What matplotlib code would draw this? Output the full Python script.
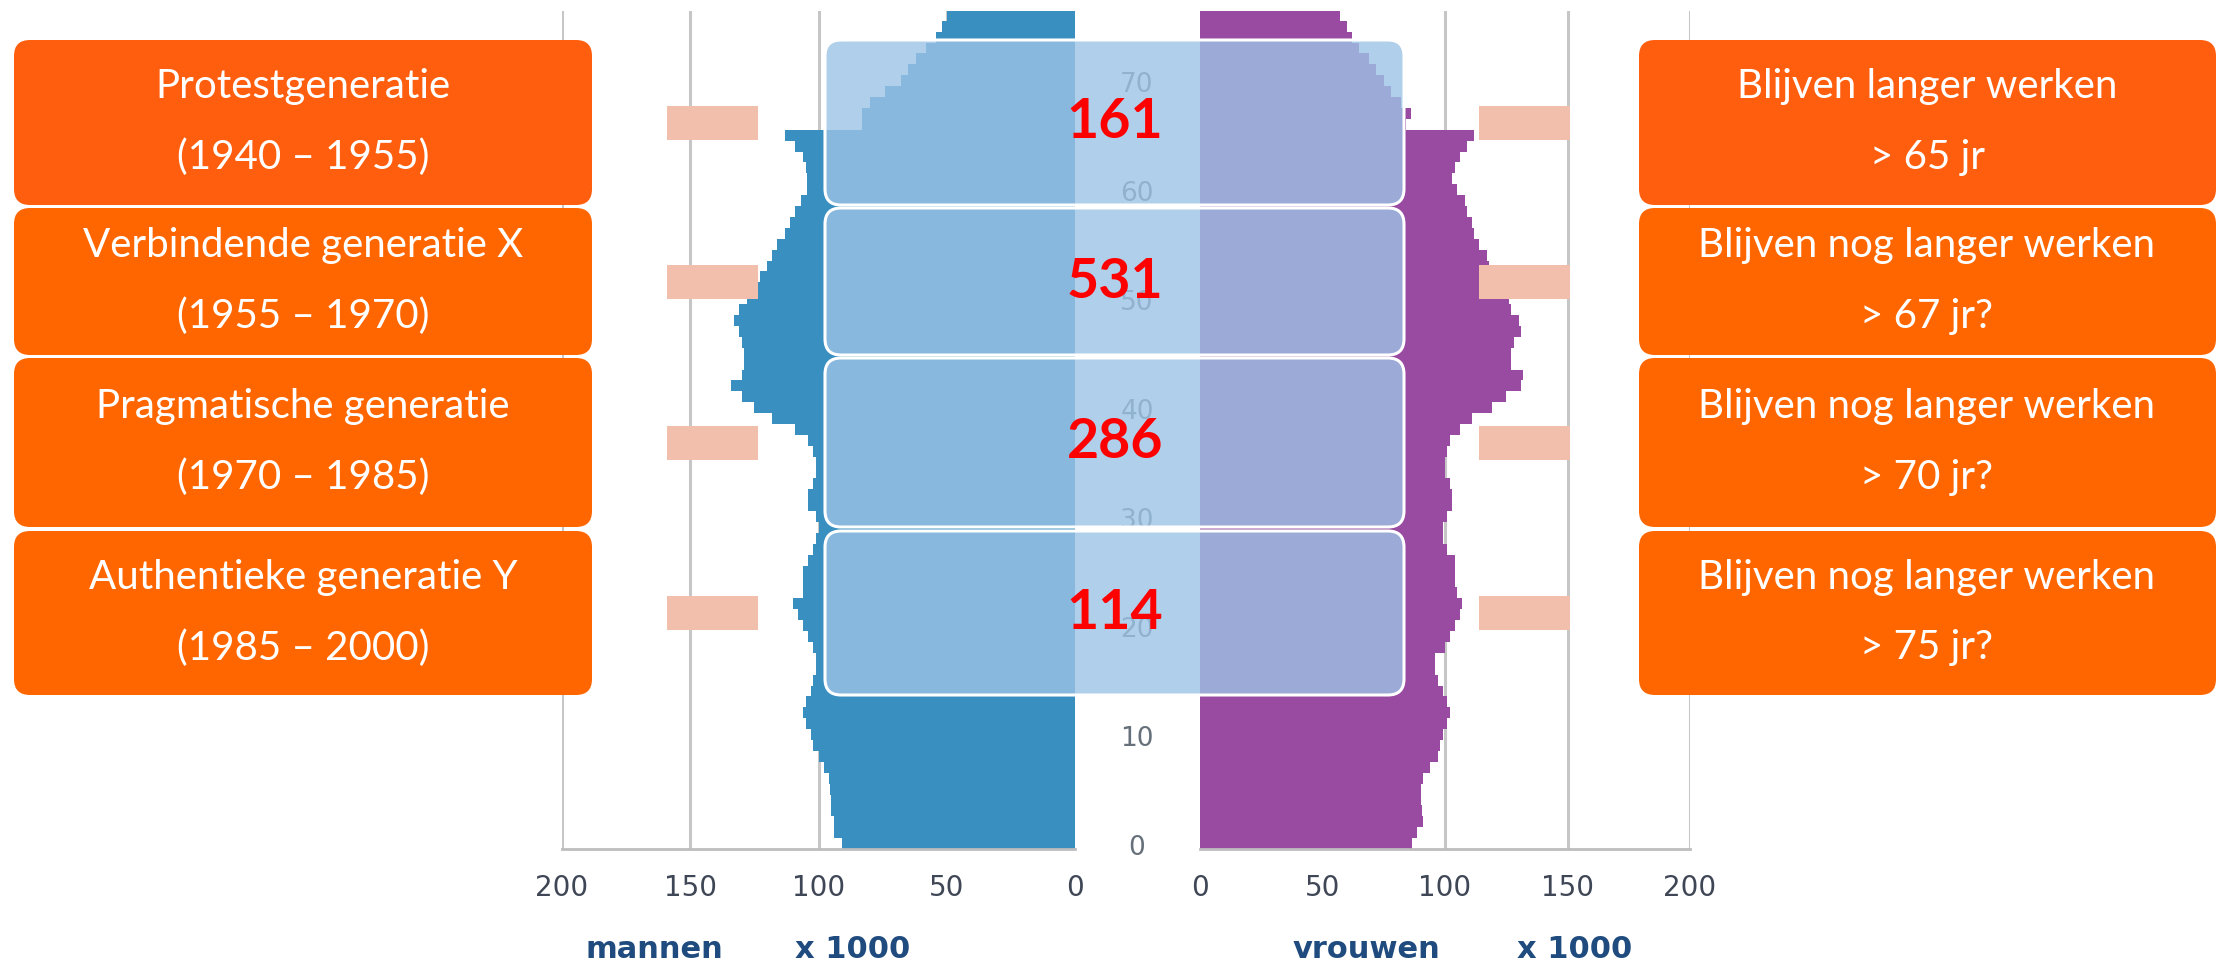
import matplotlib
matplotlib.use("Agg")
import matplotlib.pyplot as plt
from matplotlib.patches import FancyBboxPatch, Rectangle
import numpy as np

# population per age (x 1000)
ages = np.arange(77)
men = [91, 94, 94, 95, 95, 95.5, 96, 98, 100, 102,
       103, 105, 106, 105, 103, 102, 101, 101, 102, 104,
       106, 108, 110, 106, 106, 106, 104, 102, 101, 100,
       101, 104, 104, 102, 101, 101, 102, 104, 109, 118,
       125, 130, 134, 130, 129, 129, 130, 131, 133, 131,
       128, 124, 123, 120, 118, 116, 113, 111, 109, 107,
       104.5, 104.5, 105, 106, 109, 113, 83, 83, 80, 74,
       68, 65, 62, 58, 54, 52, 50]
women = [86.5, 88.5, 91, 90.5, 90, 90, 91, 94, 97, 98,
         99, 101, 102, 101, 99, 97, 96, 96, 100, 102,
         104, 106, 107, 105, 104, 104, 104, 101, 99, 99,
         101, 103, 103, 102, 100, 100, 101, 102, 106, 111,
         119, 125, 131, 132, 127, 127, 128, 131, 130, 127,
         126, 122, 120, 118, 117, 114, 112, 111, 109, 108,
         105, 103, 104, 106, 109, 112, 84, 86, 82, 78,
         75, 72, 69, 65, 62, 60, 57]

x_ticks = [0, 50, 100, 150, 200]
age_ticks = [0, 10, 20, 30, 40, 50, 60, 70]

generations = ["Protestgeneratie", "Verbindende generatie X",
               "Pragmatische generatie", "Authentieke generatie Y"]
periods = ["(1940 \u2013 1955)", "(1955 \u2013 1970)",
           "(1970 \u2013 1985)", "(1985 \u2013 2000)"]
counts = ["161", "531", "286", "114"]
work_lines = ["Blijven langer werken", "Blijven nog langer werken",
              "Blijven nog langer werken", "Blijven nog langer werken"]
work_ages = ["> 65 jr", "> 67 jr?", "> 70 jr?", "> 75 jr?"]

W, H = 2229, 973
fig = plt.figure(figsize=(W / 100, H / 100), dpi=100)


def px_axes(x0, y0, x1, y1, **kw):
    return fig.add_axes([x0 / W, 1 - y1 / H, (x1 - x0) / W, (y1 - y0) / H], **kw)


ax_m = px_axes(562, 11, 1075, 849)
ax_w = px_axes(1200, 11, 1690, 849)

for ax, vals, col in [(ax_m, men, "#3A8FC1"), (ax_w, women, "#994AA1")]:
    ax.barh(ages, vals, height=1, align="edge", color=col, linewidth=0)
    ax.set_ylim(0, 76.9)
    ax.set_xlim(0, 200)
    ax.set_xticks(x_ticks)
    ax.set_yticks([])
    ax.set_axisbelow(True)
    ax.grid(axis="x", color="#C6C6C6", lw=2.2)
    for s in ["top", "left", "right"]:
        ax.spines[s].set_visible(False)
    ax.spines["bottom"].set_color("#BDBDBD")
    ax.spines["bottom"].set_linewidth(2)
    ax.tick_params(axis="x", length=0, pad=18, labelsize=20, labelcolor="#3F4756")
ax_m.invert_xaxis()

for a in age_ticks:
    ax_m.text(-24.2, a + 0.1, str(a), ha="center", va="center", fontsize=19,
              color="#66707A", clip_on=False)

fig.text(654 / W, 1 - 950 / H, "mannen", ha="center", va="center",
         fontsize=22, fontweight="bold", color="#1F4B7F")
fig.text(853 / W, 1 - 950 / H, "x 1000", ha="center", va="center",
         fontsize=22, fontweight="bold", color="#1F4B7F")
fig.text(1366 / W, 1 - 950 / H, "vrouwen", ha="center", va="center",
         fontsize=22, fontweight="bold", color="#1F4B7F")
fig.text(1575 / W, 1 - 950 / H, "x 1000", ha="center", va="center",
         fontsize=22, fontweight="bold", color="#1F4B7F")

# overlay in pixel coords
ov = fig.add_axes([0, 0, 1, 1], zorder=5)
ov.set_xlim(0, W)
ov.set_ylim(H, 0)
ov.axis("off")
ov.patch.set_alpha(0)

rows = [(40, 205), (208, 355), (358, 527), (531, 695)]
oranges = ["#FF5E0E", "#FF6600", "#FF6600", "#FF6600"]

for i, (y0, y1) in enumerate(rows):
    c = (y0 + y1) / 2
    for x0, x1 in [(14, 592), (1639, 2216)]:
        ov.add_patch(FancyBboxPatch((x0, y0), x1 - x0, y1 - y0,
                                    boxstyle="round,pad=0,rounding_size=16",
                                    fc=oranges[i], ec="none"))
    ov.add_patch(FancyBboxPatch((825, y0), 1404 - 825, y1 - y0,
                                boxstyle="round,pad=0,rounding_size=16",
                                fc=(156 / 255, 195 / 255, 229 / 255, 0.8),
                                ec="white", lw=2.2))
    ov.add_patch(Rectangle((667, c - 17), 91, 34, fc="#F2BFAD", ec="none"))
    ov.add_patch(Rectangle((1479, c - 17), 91, 34, fc="#F2BFAD", ec="none"))

    ov.text(303, c - 36, generations[i], ha="center", va="center",
            fontsize=29, color="white", family="Lato")
    ov.text(303, c + 35, periods[i], ha="center", va="center",
            fontsize=29, color="white", family="Lato")
    ov.text(1927, c - 36, work_lines[i], ha="center", va="center",
            fontsize=29, color="white", family="Lato")
    ov.text(1927, c + 35, work_ages[i], ha="center", va="center",
            fontsize=29, color="white", family="Lato")
    ov.text(1115, c, counts[i], ha="center", va="center",
            fontsize=40, fontweight="bold", color="#FF0000", family="Lato")

fig.savefig("out.png", dpi=100)
